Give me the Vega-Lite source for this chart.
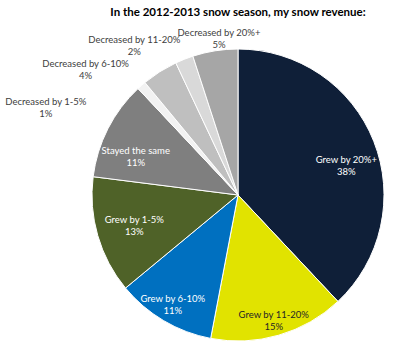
{
  "$schema": "https://vega.github.io/schema/vega-lite/v6.json",
  "width": 292,
  "height": 292,
  "autosize": {"type": "none"},
  "padding": {"left": 92, "top": 49, "right": 19, "bottom": 16},
  "background": "white",
  "title": {
    "text": "In the 2012-2013 snow season, my snow revenue:",
    "font": "Lato",
    "fontSize": 11.5,
    "fontWeight": "bold",
    "color": "#000000",
    "anchor": "middle",
    "frame": "group",
    "offset": 7
  },
  "config": {
    "text": {"font": "Lato", "fontSize": 9.5, "lineHeight": 12, "lineBreak": "\n", "align": "center", "baseline": "middle"}
  },
  "data": {
    "values": [
      {"name": "Grew by 20%+", "pct": 38, "rank": 1},
      {"name": "Grew by 11-20%", "pct": 15, "rank": 2},
      {"name": "Grew by 6-10%", "pct": 11, "rank": 3},
      {"name": "Grew by 1-5%", "pct": 13, "rank": 4},
      {"name": "Stayed the same", "pct": 11, "rank": 5},
      {"name": "Decreased by 1-5%", "pct": 1, "rank": 6},
      {"name": "Decreased by 6-10%", "pct": 4, "rank": 7},
      {"name": "Decreased by 11-20%", "pct": 2, "rank": 8},
      {"name": "Decreased by 20%+", "pct": 5, "rank": 9}
    ]
  },
  "transform": [
    {"calculate": "datum.name + '\\n' + datum.pct + '%'", "as": "label"}
  ],
  "encoding": {
    "theta": {"field": "pct", "type": "quantitative", "stack": true},
    "order": {"field": "rank", "type": "quantitative"}
  },
  "layer": [
    {
      "mark": {"type": "arc", "outerRadius": 146, "stroke": "white", "strokeWidth": 1},
      "encoding": {
        "color": {
          "field": "name",
          "type": "nominal",
          "legend": null,
          "scale": {
            "domain": ["Grew by 20%+", "Grew by 11-20%", "Grew by 6-10%", "Grew by 1-5%", "Stayed the same", "Decreased by 1-5%", "Decreased by 6-10%", "Decreased by 11-20%", "Decreased by 20%+"],
            "range": ["#0f1f38", "#e1e300", "#0070c0", "#4f6228", "#7f7f7f", "#f2f2f2", "#bfbfbf", "#d9d9d9", "#a6a6a6"]
          }
        }
      }
    },
    {
      "mark": {"type": "text", "radius": 110, "dx": 6, "dy": 5, "color": "#ffffff"},
      "encoding": {
        "text": {"condition": {"test": "datum.rank == 1", "field": "label"}, "value": ""}
      }
    },
    {
      "mark": {"type": "text", "radius": 108, "dy": -5, "color": "#ffffff"},
      "encoding": {
        "text": {"condition": {"test": "datum.rank == 4", "field": "label"}, "value": ""}
      }
    },
    {
      "mark": {"type": "text", "radius": 108, "dx": -6, "dy": 5, "color": "#ffffff"},
      "encoding": {
        "text": {"condition": {"test": "datum.rank == 5", "field": "label"}, "value": ""}
      }
    },
    {
      "mark": {"type": "text", "radius": 128, "dy": -3, "color": "#262626"},
      "encoding": {
        "text": {"condition": {"test": "datum.rank == 2", "field": "label"}, "value": ""}
      }
    },
    {
      "mark": {"type": "text", "radius": 128, "dy": -6, "color": "#ffffff"},
      "encoding": {
        "text": {"condition": {"test": "datum.rank == 3", "field": "label"}, "value": ""}
      }
    },
    {
      "mark": {"type": "text", "radius": 160, "dx": 6, "dy": -4, "color": "#404040"},
      "encoding": {
        "text": {"condition": {"test": "datum.rank == 9", "field": "label"}, "value": ""}
      }
    },
    {
      "mark": {"type": "text", "radius": 162, "dx": -44, "dy": -4, "color": "#404040"},
      "encoding": {
        "text": {"condition": {"test": "datum.rank == 8", "field": "label"}, "value": ""}
      }
    },
    {
      "mark": {"type": "text", "radius": 165, "dx": -64, "dy": 8, "color": "#404040"},
      "encoding": {
        "text": {"condition": {"test": "datum.rank == 7", "field": "label"}, "value": ""}
      }
    },
    {
      "mark": {"type": "text", "radius": 165, "dx": -83, "dy": 31, "color": "#404040"},
      "encoding": {
        "text": {"condition": {"test": "datum.rank == 6", "field": "label"}, "value": ""}
      }
    }
  ]
}
